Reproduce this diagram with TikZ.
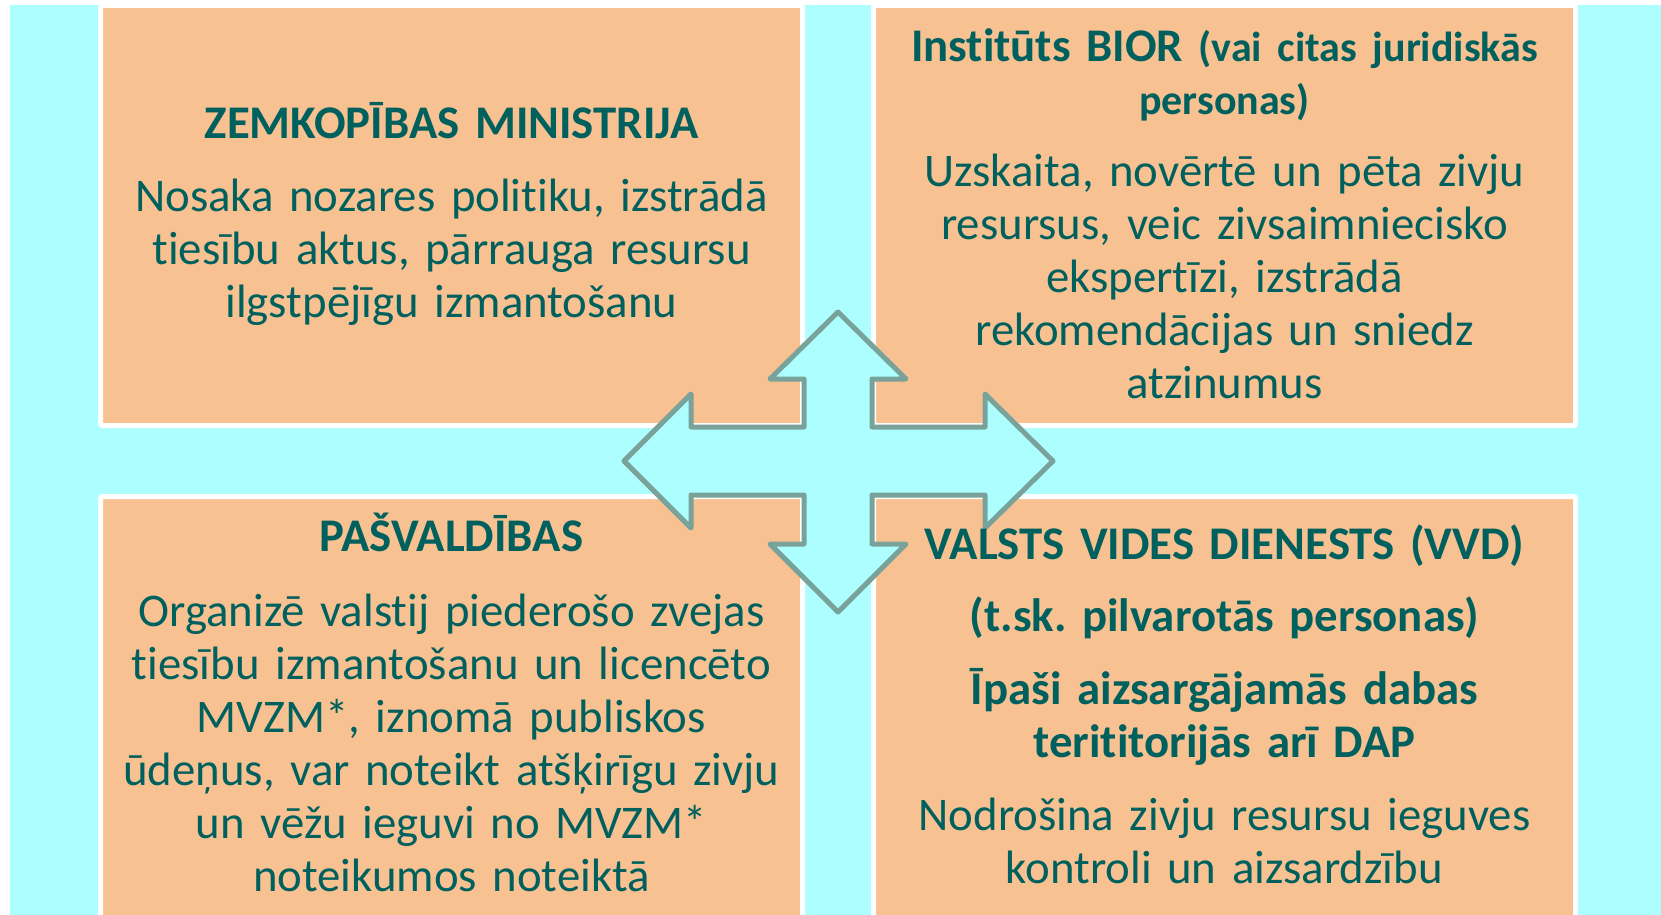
\documentclass[tikz,border=0pt]{standalone}
\usepackage{fontspec}
\setmainfont{Carlito}[Ligatures={NoCommon,NoContextual},RawFeature={-liga;-clig;-calt;-dlig}]
\definecolor{bgcyan}{RGB}{173,255,255}
\definecolor{boxorange}{RGB}{248,193,145}
\definecolor{txt}{RGB}{0,96,94}
\definecolor{arrowline}{RGB}{120,162,154}
\frenchspacing
\begin{document}
\begin{tikzpicture}[x=0.5pt,y=-0.5pt,
  panel/.style={fill=boxorange, draw=white, line width=2.5pt, rounded corners=1pt},
  bodytext/.style={anchor=base, inner sep=0pt, text width=345pt, align=center, text=txt,
    font=\fontsize{23.4pt}{26.5pt}\selectfont},
  titletext/.style={bodytext, font=\bfseries\fontsize{23.4pt}{26.5pt}\selectfont},
  crossarrow/.style={fill=bgcyan, draw=arrowline, line width=2.5pt, line join=round}]
\useasboundingbox (0,0) rectangle (1661,915);
\fill[white] (0,0) rectangle (1661,915);
\clip (0,0) rectangle (1661,915);
\fill[bgcyan] (10,5) rectangle (1661,915);
% panels
\draw[panel] (100.5,5.5) rectangle (802.5,425.5);
\draw[panel] (873.5,5.5) rectangle (1575.5,425.5);
\draw[panel] (100.5,496.5) rectangle (802.5,925);
\draw[panel] (873.5,496.5) rectangle (1575.5,925);
% four-way arrow
\draw[crossarrow] (838,312) -- (906,379) -- (872,379) -- (872,427) -- (985,427) -- (985,394)
  -- (1053,461) -- (985,528) -- (985,495) -- (872,495) -- (872,544) -- (906,544)
  -- (838,612) -- (770,544) -- (804,544) -- (804,495) -- (691,495) -- (691,528)
  -- (624,461) -- (691,394) -- (691,427) -- (804,427) -- (804,379) -- (770,379) -- cycle;
% top left
\node[titletext] (zmT) at (451.5,138.8) {ZEMKOPĪBAS MINISTRIJA};
\node[bodytext] (zmB) at (451.5,211.9) {Nosaka nozares politiku, izstrādā\\tiesību aktus, pārrauga resursu\\ilgstpējīgu izmantošanu};
% top right
\node[titletext] (biT) at (1224.5,61.4) {Institūts BIOR {\fontsize{21pt}{26.5pt}\selectfont(vai citas juridiskās\\personas)}};
\node[bodytext] (biB) at (1224.5,186.4) {Uzskaita, novērtē un pēta zivju\\resursus, veic zivsaimniecisko\\ekspertīzi, izstrādā\\rekomendācijas un sniedz\\atzinumus};
% bottom left
\node[titletext] (pvT) at (451.5,551.9) {PAŠVALDĪBAS};
\node[bodytext] (pvB) at (451.5,626) {Organizē valstij piederošo zvejas\\tiesību izmantošanu un licencēto\\MVZM*, iznomā publiskos\\ūdeņus, var noteikt atšķirīgu zivju\\un vēžu ieguvi no MVZM*\\noteikumos noteiktā};
% bottom right
\node[titletext] (vvT) at (1224.5,559.3) {VALSTS VIDES DIENESTS (VVD)};
\node[titletext] (vvS) at (1224.5,631.3) {(t.sk. pilvarotās personas)};
\node[titletext] (vvD) at (1224.5,704.4) {Īpaši aizsargājamās dabas\\terititorijās arī DAP};
\node[bodytext] (vvB) at (1224.5,830.5) {Nodrošina zivju resursu ieguves\\kontroli un aizsardzību};
\end{tikzpicture}
\end{document}
